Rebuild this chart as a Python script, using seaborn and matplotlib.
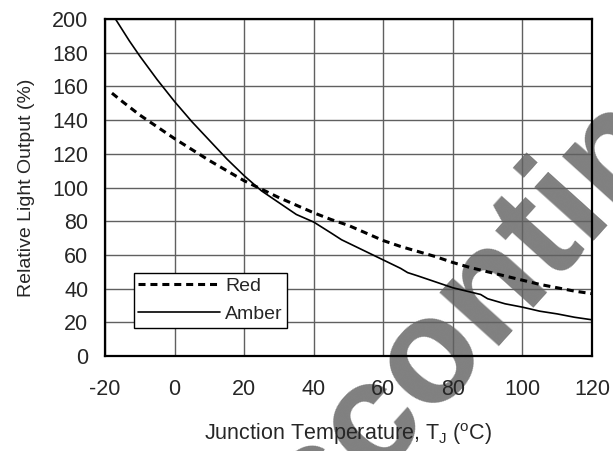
import numpy as np
import pandas as pd
import matplotlib
matplotlib.use("Agg")
import matplotlib.pyplot as plt
import seaborn as sns

# courbes
temp_amber = [-20, -17, -13, -10, -5, 0, 5, 10, 15, 20, 25, 30, 35, 40, 45, 48,
              55, 60, 65, 67, 70, 75, 80, 85, 88, 90, 95, 100, 105, 110, 115, 120]
amber = [212, 200, 187, 178, 164, 151, 139, 128, 117, 107, 98, 91, 84, 79.5, 73, 69,
         62, 57, 52, 49.5, 47.5, 44, 40.5, 38, 36.5, 34, 31, 29, 26.6, 25, 23, 21.5]

temp_red = [-18, -15, -10, -5, 0, 5, 10, 15, 20, 25, 30, 35, 40, 45, 50, 55, 60,
            65, 70, 75, 80, 85, 90, 95, 100, 105, 110, 115, 120]
red = [156, 151, 143, 136, 129, 122.5, 116, 110, 104, 99, 94, 89.5, 85, 81, 77.5, 73,
       68.5, 65, 62, 59, 55.5, 52.5, 50, 47.5, 45, 42.5, 40.5, 38.5, 37]

x_ticks = [-20, 0, 20, 40, 60, 80, 100, 120]
y_ticks = [0, 20, 40, 60, 80, 100, 120, 140, 160, 180, 200]

W, H = 613, 451

sns.set_style("white")
plt.rcParams['font.family'] = ['Liberation Sans', 'DejaVu Sans']
plt.rcParams['mathtext.fontset'] = 'custom'
plt.rcParams['mathtext.rm'] = 'Liberation Sans'
plt.rcParams['mathtext.default'] = 'regular'
plt.rcParams['axes.unicode_minus'] = False

fig = plt.figure(figsize=(W / 100, H / 100), dpi=100)
ax = fig.add_axes([0.1713, 0.2106, 0.7944, 0.7473])

df_red = pd.DataFrame({"T": temp_red, "val": red})
df_amber = pd.DataFrame({"T": temp_amber, "val": amber})

sns.lineplot(data=df_red, x="T", y="val", ax=ax, color="black", lw=2.2,
             label="Red", sort=False, zorder=3)
sns.lineplot(data=df_amber, x="T", y="val", ax=ax, color="black", lw=1.2,
             label="Amber", sort=False, zorder=3)
ax.lines[0].set_linestyle((0, (2.3, 1.6)))

ax.set_xlim(-20, 120)
ax.set_ylim(0, 200)
ax.set_xticks(x_ticks)
ax.set_yticks(y_ticks)
ax.grid(True, color="#606060", lw=1)
ax.set_axisbelow(False)
for s in ax.spines.values():
    s.set_color("black")
    s.set_linewidth(1.6)
    s.set_zorder(4)
ax.tick_params(direction="out", length=4.5, width=1, color="#404040",
               labelsize=15.5, pad=7.5)
ax.tick_params(axis="x", pad=12)

ax.set_xlabel(r"Junction Temperature, T$_\mathregular{J}$ ($^\mathregular{o}$C)",
              fontsize=15.5, labelpad=15)
ax.set_ylabel("Relative Light Output (%)", fontsize=14, labelpad=12)

leg = ax.legend(loc="upper left", bbox_to_anchor=(0.0595, 0.246), borderaxespad=0,
                fontsize=14, handlelength=4.2, handletextpad=0.26, labelspacing=0.55,
                borderpad=0.22, fancybox=False, framealpha=1, edgecolor="black")
leg.get_frame().set_linewidth(1)
leg.set_zorder(5)

# filigrane : on cale le centre du "o" sur la position lue
wm_size = 108
wm_angle = np.radians(48)
renderer = fig.canvas.get_renderer()
probe = fig.text(0, 0, "Disc", fontsize=wm_size, fontweight="bold")
w_pre = probe.get_window_extent(renderer).width
probe.set_text("o")
w_o = probe.get_window_extent(renderer).width
probe.remove()
em = wm_size * 100 / 72
along = np.array([np.cos(wm_angle), np.sin(wm_angle)])
up = np.array([-np.sin(wm_angle), np.cos(wm_angle)])
o_center = np.array([430, H - 354])
start = o_center - along * (w_pre + w_o / 2) - up * (0.26 * em)
ax.text(start[0] / W, start[1] / H, "Discontinued", transform=fig.transFigure,
        rotation=np.degrees(wm_angle), rotation_mode="anchor", ha="left", va="baseline",
        fontsize=wm_size, fontweight="bold", color="#808080", zorder=2, clip_on=False)

fig.savefig("out.png", dpi=100)
